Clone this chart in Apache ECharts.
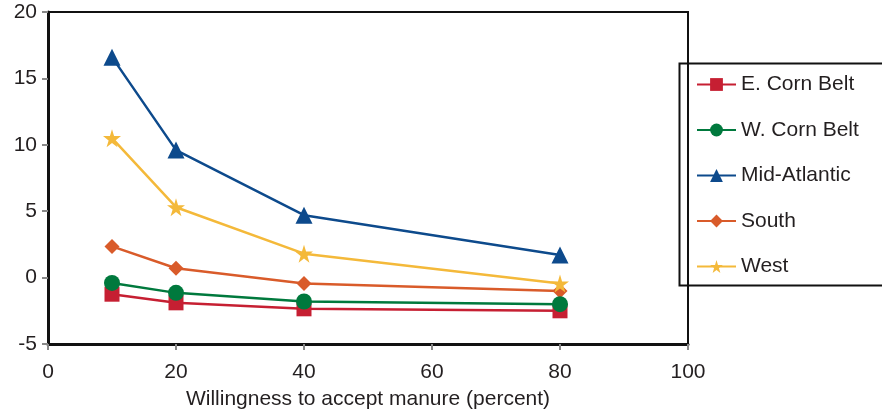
<!DOCTYPE html>
<html>
<head>
<meta charset="utf-8">
<script src="https://cdn.jsdelivr.net/npm/echarts@6/dist/echarts.min.js"></script>
<style>html,body{margin:0;padding:0;background:#fff}#c{width:882px;height:415px}</style>
</head>
<body>
<div id="c"></div>
<script>
const xValues = [10, 20, 40, 80];
const seriesNames = ['E. Corn Belt', 'W. Corn Belt', 'Mid-Atlantic', 'South', 'West'];
const eCornBelt = [-1.25, -1.9, -2.35, -2.5];
const wCornBelt = [-0.4, -1.15, -1.8, -2.0];
const midAtlantic = [16.6, 9.6, 4.7, 1.7];
const south = [2.35, 0.7, -0.45, -1.0];
const west = [10.5, 5.3, 1.8, -0.45];
const xTicks = [0, 20, 40, 60, 80, 100];
const yTicks = [-5, 0, 5, 10, 15, 20];

const colors = ['#c61f32', '#00793d', '#0d4a8c', '#d95b2a', '#f4b93a'];
const star = 'path://M50,0 L61,35 L98,35 L68,57 L79,91 L50,70 L21,91 L32,57 L2,35 L39,35 Z';
const symbols = ['rect', 'circle', 'triangle', 'diamond', star];
const sizes = [15, 16, 17, 15, 18];
const values = [eCornBelt, wCornBelt, midAtlantic, south, west];
const font = 'Liberation Sans, Arial, sans-serif';
const txt = '#231f20';

const chart = echarts.init(document.getElementById('c'));
chart.setOption({
  animation: false,
  backgroundColor: '#fff',
  grid: { left: 48, right: 194, top: 12, bottom: 71, show: true, borderColor: '#111', borderWidth: 2, backgroundColor: 'transparent' },
  xAxis: {
    type: 'value', min: xTicks[0], max: xTicks[xTicks.length - 1], interval: 20,
    name: 'Willingness to accept manure (percent)', nameLocation: 'middle', nameGap: 45,
    nameTextStyle: { fontFamily: font, fontSize: 21, color: txt },
    axisLine: { show: true, onZero: false, lineStyle: { color: '#111', width: 3 } },
    axisTick: { show: true, inside: false, length: 6, lineStyle: { color: '#888', width: 2 } },
    axisLabel: { margin: 18, fontFamily: font, fontSize: 21, color: txt },
    splitLine: { show: false }
  },
  yAxis: {
    type: 'value', min: yTicks[0], max: yTicks[yTicks.length - 1], interval: 5,
    axisLine: { show: true, onZero: false, lineStyle: { color: '#111', width: 3 } },
    axisTick: { show: true, inside: false, length: 6, lineStyle: { color: '#888', width: 2 } },
    axisLabel: { margin: 11, fontFamily: font, fontSize: 21, color: txt },
    splitLine: { show: false }
  },
  legend: {
    orient: 'vertical', left: 696, top: 74, padding: 0,
    itemWidth: 39, itemHeight: 16, itemGap: 24.5,
    textStyle: { fontFamily: font, fontSize: 21, color: txt, lineHeight: 20 },
    data: seriesNames
  },
  graphic: [{
    type: 'rect', left: 677, top: 61, silent: true,
    shape: { width: 230, height: 222 },
    style: { fill: 'none', stroke: '#111', lineWidth: 2 }
  }],
  series: seriesNames.map((n, i) => ({
    name: n, type: 'line',
    data: xValues.map((x, j) => [x, values[i][j]]),
    symbol: symbols[i], symbolSize: sizes[i],
    showAllSymbol: true,
    itemStyle: { color: colors[i] },
    lineStyle: { color: colors[i], width: 2.5 },
    z: 2 + (i === 1 ? 1 : 0)
  }))
});
</script>
</body>
</html>
